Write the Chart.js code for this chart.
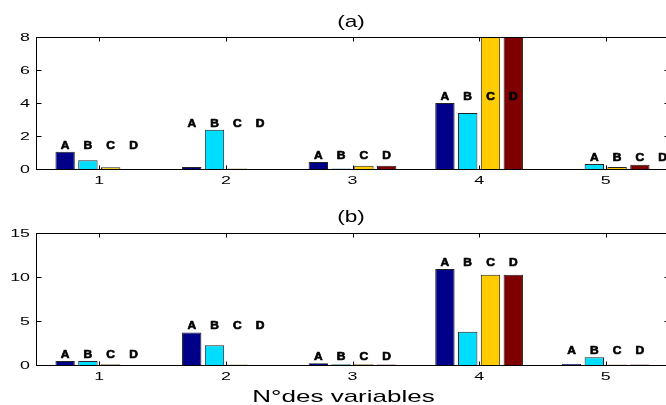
<!DOCTYPE html>
<html><head><meta charset="utf-8">
<script src="https://cdn.jsdelivr.net/npm/chart.js@4.4.1/dist/chart.umd.min.js"></script>
<style>
html,body{margin:0;padding:0;background:#fff;overflow:hidden;width:666px;height:405px;}
canvas{position:absolute;left:0;}
#ca{top:0}
#cb{top:196px}
</style></head><body>
<canvas id="ca" width="680" height="196"></canvas>
<canvas id="cb" width="680" height="209"></canvas>
<script>
const categories = ['1', '2', '3', '4', '5'];
const seriesNames = ['A', 'B', 'C', 'D'];
const seriesColors = ['#000088', '#00DDFF', '#FFCC00', '#7F0000'];
const panelATitle = '(a)';
const panelBTitle = '(b)';
const xAxisTitle = 'N°des variables';

// panel (a)
const aA = [1.05, 0.12, 0.42, 4.00, 0.00];
const aB = [0.53, 2.38, 0.03, 3.39, 0.30];
const aC = [0.10, 0.03, 0.20, 8.50, 0.12];
const aD = [0.00, 0.00, 0.20, 8.50, 0.26];
// panel (b)
const bA = [0.45, 3.70, 0.20, 10.90, 0.10];
const bB = [0.45, 2.24, 0.08, 3.78, 0.87];
const bC = [0.08, 0.06, 0.08, 10.26, 0.06];
const bD = [0.00, 0.00, 0.06, 10.26, 0.06];

const yTicksA = [0, 2, 4, 6, 8];
const yTicksB = [0, 5, 10, 15];

function sText(ctx, txt, x, y, font, align, sx, color, stroke) {
  ctx.save();
  ctx.translate(x, y);
  ctx.scale(sx, 1);
  ctx.font = font;
  ctx.textAlign = align;
  ctx.textBaseline = 'alphabetic';
  ctx.fillStyle = color || '#000';
  ctx.fillText(txt, 0, 0);
  if (stroke) {
    ctx.lineWidth = stroke;
    ctx.strokeStyle = color || '#000';
    ctx.lineJoin = 'round';
    ctx.strokeText(txt, 0, 0);
  }
  ctx.restore();
}

const framePlugin = {
  id: 'frame',
  afterDraw(chart, args, opts) {
    const ctx = chart.ctx, ca = chart.chartArea, xs = chart.scales.x, ys = chart.scales.y;
    const L = Math.round(ca.left) + 0.5, R = Math.round(ca.right) + 0.5;
    const T = Math.round(ca.top) + 0.5, B = Math.round(ca.bottom) + 0.5;
    ctx.save();
    ctx.strokeStyle = '#000';
    ctx.lineWidth = 1;
    ctx.strokeRect(L, T, R - L, B - T);
    ctx.beginPath();
    ys.ticks.forEach(t => {
      const y = Math.round(ys.getPixelForValue(t.value)) + 0.5;
      ctx.moveTo(L, y); ctx.lineTo(L + 5, y);
      ctx.moveTo(R, y); ctx.lineTo(R - 5, y);
    });
    categories.forEach((c, i) => {
      const x = Math.round(xs.getPixelForValue(i)) + 0.5;
      ctx.moveTo(x, T); ctx.lineTo(x, T + 4);
      ctx.moveTo(x, B); ctx.lineTo(x, B - 4);
    });
    ctx.stroke();
    ctx.restore();

    const tickFont = '11.5px "Liberation Sans", Arial, sans-serif';
    ys.ticks.forEach(t => {
      sText(ctx, String(t.value), ca.left - 6, ys.getPixelForValue(t.value) + 4, tickFont, 'right', 1.55);
    });
    categories.forEach((c, i) => {
      sText(ctx, c, xs.getPixelForValue(i), ca.bottom + 15, tickFont, 'center', 1.55);
    });

    const cx = (ca.left + ca.right) / 2;
    sText(ctx, opts.title, cx - 1.5, opts.titleY, '17px "Liberation Sans", Arial, sans-serif', 'center', 1.33);
    if (opts.xTitle) {
      sText(ctx, opts.xTitle, cx - 9, opts.xTitleY, '17px "Liberation Sans", Arial, sans-serif', 'center', 1.53);
    }

    // series letters above each group
    const metas = chart.data.datasets.map((d, k) => chart.getDatasetMeta(k));
    categories.forEach((c, i) => {
      let mx = 0;
      chart.data.datasets.forEach(ds => {
        const v = ds.data[i];
        if (v <= ys.max && v > mx) mx = v;
      });
      const top = ys.getPixelForValue(mx);
      const shift = (opts.labelShift && opts.labelShift[i]) || 0;
      const n = metas.length;
      seriesNames.forEach((name, k) => {
        const slot = k + shift;
        let x;
        if (slot < n) x = metas[slot].data[i].x;
        else x = metas[n - 1].data[i].x + (slot - n + 1) * (metas[n - 1].data[i].x - metas[n - 2].data[i].x);
        sText(ctx, name, x, top - 3, 'bold 10px "Liberation Sans", Arial, sans-serif', 'center', 1.2, '#000', 0.6);
      });
    });
  }
};

function makeChart(id, series, ticks, extra) {
  return new Chart(document.getElementById(id), {
    type: 'bar',
    data: {
      labels: categories,
      datasets: series.map((vals, k) => ({
        label: seriesNames[k],
        data: vals,
        backgroundColor: seriesColors[k],
        borderColor: '#222',
        borderWidth: 1,
        barPercentage: 0.85,
        categoryPercentage: 0.72
      }))
    },
    options: {
      responsive: false,
      animation: false,
      events: [],
      layout: { padding: { left: 0, right: 11, top: 37, bottom: 0 } },
      plugins: { legend: { display: false }, tooltip: { enabled: false }, frame: extra },
      scales: {
        x: {
          grid: { display: false, drawTicks: false },
          border: { display: false },
          ticks: { display: false },
          afterFit(s) { s.height = extra.xHeight; }
        },
        y: {
          min: 0,
          max: ticks[ticks.length - 1],
          grid: { display: false, drawTicks: false },
          border: { display: false },
          ticks: { display: false },
          afterFit(s) { s.width = 36; },
          afterBuildTicks(s) { s.ticks = ticks.map(v => ({ value: v })); }
        }
      }
    },
    plugins: [framePlugin]
  });
}

makeChart('ca', [aA, aB, aC, aD], yTicksA, { title: panelATitle, titleY: 27, xHeight: 27, labelShift: { 4: 1 } });
makeChart('cb', [bA, bB, bC, bD], yTicksB, { title: panelBTitle, titleY: 26, xHeight: 40, xTitle: xAxisTitle, xTitleY: 205.7 });
</script>
</body></html>
